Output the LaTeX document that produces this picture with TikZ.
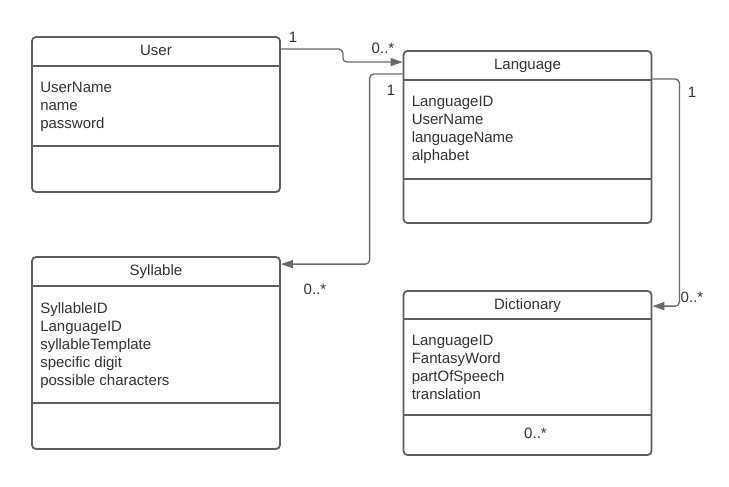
\documentclass[tikz,border=0pt]{standalone}
\usepackage{fontspec}
\setmainfont{Liberation Sans}
\usetikzlibrary{arrows.meta}

\definecolor{boxgray}{HTML}{5E5E5E}
\definecolor{linegray}{HTML}{6A6A6A}
\definecolor{textgray}{HTML}{333333}

\begin{document}
\begin{tikzpicture}[x=1pt, y=-1pt,
    classbox/.style={draw=boxgray, line width=1.8pt, rounded corners=4pt, minimum width=248pt, inner sep=0pt},
    divider/.style={draw=boxgray, line width=1.8pt},
    title/.style={anchor=base, text=textgray, inner sep=0pt},
    attrs/.style={anchor=north west, align=left, text=textgray, inner sep=0pt},
    assoc/.style={draw=linegray, line width=1.3pt, rounded corners=4pt, -{Triangle[length=12pt,width=8pt]}},
    mult/.style={text=textgray, inner sep=0pt}]
                \fontsize{15pt}{18pt}\selectfont
                \useasboundingbox (0,0) rectangle (729,487);
                \fill[white] (0,0) rectangle (729,487); % background

                \node[classbox, minimum height=155pt] (User) at (156,114.5) {};
                \node[classbox, minimum height=172pt] (Language) at (527.5,137) {};
                \node[classbox, minimum height=192pt] (Syllable) at (156,353) {};
                \node[classbox, minimum height=164pt] (Dictionary) at (527.5,373) {};

                % User
                \node[title] (User title) at ([yshift=-19pt]User.north) {User};
                \draw[divider] ([yshift=-30pt]User.north west) -- ([yshift=-30pt]User.north east);
                \draw[divider] ([yshift=-110pt]User.north west) -- ([yshift=-110pt]User.north east);
                \node[attrs] (User attrs) at ([xshift=9pt,yshift=-46pt]User.north west) {UserName\\name\\password};

                % Language
                \node[title] (Language title) at ([yshift=-19pt]Language.north) {Language};
                \draw[divider] ([yshift=-30pt]Language.north west) -- ([yshift=-30pt]Language.north east);
                \draw[divider] ([yshift=-129pt]Language.north west) -- ([yshift=-129pt]Language.north east);
                \node[attrs] (Language attrs) at ([xshift=9pt,yshift=-46pt]Language.north west) {LanguageID\\UserName\\languageName\\alphabet};

                % Syllable
                \node[title] (Syllable title) at ([yshift=-19pt]Syllable.north) {Syllable};
                \draw[divider] ([yshift=-30pt]Syllable.north west) -- ([yshift=-30pt]Syllable.north east);
                \draw[divider] ([yshift=-147pt]Syllable.north west) -- ([yshift=-147pt]Syllable.north east);
                \node[attrs] (Syllable attrs) at ([xshift=9pt,yshift=-46pt]Syllable.north west) {SyllableID\\LanguageID\\syllableTemplate\\specific digit\\possible characters};

                % Dictionary
                \node[title] (Dictionary title) at ([yshift=-19pt]Dictionary.north) {Dictionary};
                \draw[divider] ([yshift=-29pt]Dictionary.north west) -- ([yshift=-29pt]Dictionary.north east);
                \draw[divider] ([yshift=-125pt]Dictionary.north west) -- ([yshift=-125pt]Dictionary.north east);
                \node[attrs] (Dictionary attrs) at ([xshift=9pt,yshift=-45pt]Dictionary.north west) {LanguageID\\FantasyWord\\partOfSpeech\\translation};
                \node[mult] (Dictionary mult) at ([xshift=8pt,yshift=-143pt]Dictionary.north) {0..*};

                % associations
                \draw[assoc] ([yshift=-13pt]User.north east) -- ++(62,0) |- ([yshift=-12pt]Language.north west);
                \draw[assoc] ([yshift=-24pt]Language.north west) -- ++(-33,0) |- ([yshift=-8pt]Syllable.north east);
                \draw[assoc] ([yshift=-29pt]Language.north east) -- ++(27,0) |- ([yshift=-16pt]Dictionary.north east);

                \node[mult] (m1) at (293,37) {1};
                \node[mult] (m2) at (383,48) {0..*};
                \node[mult] (m3) at (391,90) {1};
                \node[mult] (m4) at (315,289) {0..*};
                \node[mult] (m5) at (692,92) {1};
                \node[mult] (m6) at (692,297) {0..*};
            \end{tikzpicture}
\end{document}
